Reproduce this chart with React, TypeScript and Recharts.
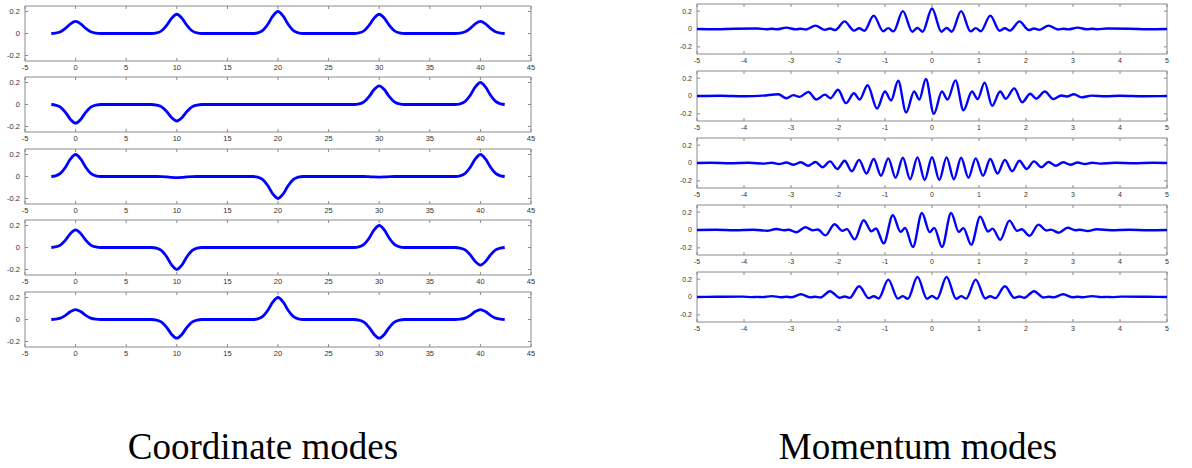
import React from 'react';
import { LineChart, Line, XAxis, YAxis, ReferenceLine } from 'recharts';

// ---------- Coordinate modes (left column) ----------
const COORD_X = [
  -2.4, -2, -1.5, -1, -0.5, 0, 0.5, 1, 1.5, 2, 2.5,
  7.5, 8, 8.5, 9, 9.5, 10, 10.5, 11, 11.5, 12, 12.5,
  17.5, 18, 18.5, 19, 19.5, 20, 20.5, 21, 21.5, 22, 22.5,
  27.5, 28, 28.5, 29, 29.5, 30, 30.5, 31, 31.5, 32, 32.5,
  37.5, 38, 38.5, 39, 39.5, 40, 40.5, 41, 41.5, 42, 42.4,
];
const COORD_1 = [
  0, 0.003, 0.015, 0.046, 0.088, 0.11, 0.088, 0.046, 0.015, 0.003, 0,
  0, 0.005, 0.025, 0.074, 0.14, 0.175, 0.14, 0.074, 0.025, 0.005, 0,
  0, 0.006, 0.028, 0.084, 0.16, 0.2, 0.16, 0.084, 0.028, 0.006, 0,
  0, 0.005, 0.025, 0.074, 0.14, 0.175, 0.14, 0.074, 0.025, 0.005, 0,
  0, 0.003, 0.015, 0.046, 0.088, 0.11, 0.088, 0.046, 0.015, 0.003, 0,
];
const COORD_2 = [
  0, -0.005, -0.024, -0.071, -0.136, -0.17, -0.136, -0.071, -0.024, -0.005, 0,
  0, -0.005, -0.021, -0.063, -0.12, -0.15, -0.12, -0.063, -0.021, -0.005, 0,
  0, 0, 0, 0, 0, 0, 0, 0, 0, 0, 0,
  0, 0.005, 0.024, 0.071, 0.136, 0.17, 0.136, 0.071, 0.024, 0.005, 0,
  0, 0.006, 0.028, 0.084, 0.16, 0.2, 0.16, 0.084, 0.028, 0.006, 0,
];
const COORD_3 = [
  0, 0.006, 0.028, 0.084, 0.16, 0.2, 0.16, 0.084, 0.028, 0.006, 0,
  0, 0, -0.001, -0.004, -0.008, -0.01, -0.008, -0.004, -0.001, 0, 0,
  0, -0.006, -0.028, -0.084, -0.16, -0.2, -0.16, -0.084, -0.028, -0.006, 0,
  0, 0, 0, -0.002, -0.004, -0.005, -0.004, -0.002, 0, 0, 0,
  0, 0.006, 0.028, 0.084, 0.16, 0.2, 0.16, 0.084, 0.028, 0.006, 0,
];
const COORD_4 = [
  0, 0.005, 0.022, 0.067, 0.128, 0.16, 0.128, 0.067, 0.022, 0.005, 0,
  0, -0.006, -0.028, -0.084, -0.16, -0.2, -0.16, -0.084, -0.028, -0.006, 0,
  0, 0, 0, 0, 0, 0, 0, 0, 0, 0, 0,
  0, 0.006, 0.028, 0.084, 0.16, 0.2, 0.16, 0.084, 0.028, 0.006, 0,
  0, -0.005, -0.022, -0.067, -0.128, -0.16, -0.128, -0.067, -0.022, -0.005, 0,
];
const COORD_5 = [
  0, 0.003, 0.013, 0.038, 0.072, 0.09, 0.072, 0.038, 0.013, 0.003, 0,
  0, -0.005, -0.024, -0.071, -0.136, -0.17, -0.136, -0.071, -0.024, -0.005, 0,
  0, 0.006, 0.028, 0.084, 0.16, 0.2, 0.16, 0.084, 0.028, 0.006, 0,
  0, -0.005, -0.024, -0.071, -0.136, -0.17, -0.136, -0.071, -0.024, -0.005, 0,
  0, 0.003, 0.013, 0.038, 0.072, 0.09, 0.072, 0.038, 0.013, 0.003, 0,
];
const COORD_TICKS = [-5, 0, 5, 10, 15, 20, 25, 30, 35, 40, 45];

// ---------- Momentum modes (right column), [x, value] ----------
const MOM_1: [number, number][] = [
  [-5, 0], [-4.6, -0.002], [-4.2, 0.003], [-3.72, 0.005], [-3.52, -0.002], [-3.41, 0.002], [-3.3, -0.003],
  [-3.1, 0.015], [-2.9, -0.004], [-2.79, 0.003], [-2.68, -0.005], [-2.48, 0.038], [-2.28, -0.01], [-2.17, 0.005],
  [-2.06, -0.012], [-1.86, 0.085], [-1.66, -0.018], [-1.55, 0.008], [-1.44, -0.02], [-1.24, 0.15], [-1.04, -0.025],
  [-0.93, 0.01], [-0.82, -0.027], [-0.62, 0.2], [-0.42, -0.03], [-0.31, 0.012], [-0.2, -0.03], [0, 0.23],
  [0.2, -0.03], [0.31, 0.012], [0.42, -0.03], [0.62, 0.2], [0.82, -0.027], [0.93, 0.01], [1.04, -0.025],
  [1.24, 0.15], [1.44, -0.02], [1.55, 0.008], [1.66, -0.018], [1.86, 0.085], [2.06, -0.012], [2.17, 0.005],
  [2.28, -0.01], [2.48, 0.038], [2.68, -0.005], [2.79, 0.003], [2.9, -0.004], [3.1, 0.015], [3.3, -0.003],
  [3.41, 0.002], [3.52, -0.002], [3.72, 0.005], [4.2, 0.003], [4.6, -0.002], [5, 0],
];
const MOM_2: [number, number][] = [
  [-5, 0], [-4.5, 0.003], [-4.0, -0.003], [-3.6, 0.004], [-3.27, 0.02], [-3.1, -0.025], [-2.95, 0.01],
  [-2.82, -0.01], [-2.63, 0.045], [-2.46, -0.04], [-2.28, 0.015], [-2.16, -0.025], [-2.0, 0.07], [-1.83, -0.08],
  [-1.66, 0.03], [-1.54, -0.04], [-1.37, 0.12], [-1.17, -0.14], [-1.0, 0.05], [-0.87, -0.05], [-0.72, 0.17],
  [-0.55, -0.185], [-0.38, 0.05], [-0.27, -0.04], [-0.13, 0.19], [0.04, -0.2], [0.21, 0.05], [0.33, -0.04],
  [0.5, 0.175], [0.67, -0.16], [0.85, 0.05], [0.97, -0.035], [1.12, 0.15], [1.28, -0.11], [1.45, 0.05],
  [1.57, -0.03], [1.75, 0.085], [1.92, -0.07], [2.09, 0.025], [2.22, -0.03], [2.4, 0.05], [2.58, -0.035],
  [2.75, 0.005], [2.87, -0.005], [3.02, 0.02], [3.18, -0.015], [3.4, 0.004], [3.7, -0.003], [4.0, 0.003],
  [4.5, -0.002], [5, 0],
];
const MOM_3: [number, number][] = [
  [-5, 0], [-4.7, 0.002], [-4.3, -0.003], [-3.9, 0.002], [-3.565, -0.007], [-3.41, 0.003], [-3.255, -0.012],
  [-3.1, 0.005], [-2.945, -0.02], [-2.79, 0.008], [-2.635, -0.031], [-2.48, 0.012], [-2.325, -0.047],
  [-2.17, 0.018], [-2.015, -0.068], [-1.86, 0.026], [-1.705, -0.092], [-1.55, 0.035], [-1.395, -0.118],
  [-1.24, 0.044], [-1.085, -0.142], [-0.93, 0.052], [-0.775, -0.165], [-0.62, 0.058], [-0.465, -0.182],
  [-0.31, 0.063], [-0.155, -0.19], [0, 0.065], [0.155, -0.19], [0.31, 0.063], [0.465, -0.182], [0.62, 0.058],
  [0.775, -0.165], [0.93, 0.052], [1.085, -0.142], [1.24, 0.044], [1.395, -0.118], [1.55, 0.035],
  [1.705, -0.092], [1.86, 0.026], [2.015, -0.068], [2.17, 0.018], [2.325, -0.047], [2.48, 0.012],
  [2.635, -0.031], [2.79, 0.008], [2.945, -0.02], [3.1, 0.005], [3.255, -0.012], [3.41, 0.003],
  [3.565, -0.007], [3.9, 0.002], [4.3, -0.003], [4.7, 0.002], [5, 0],
];
const MOM_4: [number, number][] = [
  [-5, 0], [-4.6, 0.002], [-4.2, -0.002], [-3.8, 0.003], [-3.506, -0.008], [-3.314, 0.012], [-3.148, -0.003],
  [-3.052, 0.003], [-2.886, -0.025], [-2.694, 0.03], [-2.528, -0.004], [-2.432, 0.005], [-2.266, -0.06],
  [-2.074, 0.065], [-1.908, -0.009], [-1.812, 0.01], [-1.646, -0.105], [-1.454, 0.11], [-1.288, -0.015],
  [-1.192, 0.016], [-1.026, -0.15], [-0.834, 0.165], [-0.668, -0.021], [-0.572, 0.022], [-0.406, -0.19],
  [-0.214, 0.19], [-0.048, -0.024], [0.048, 0.024], [0.214, -0.19], [0.406, 0.19], [0.572, -0.022],
  [0.668, 0.021], [0.834, -0.165], [1.026, 0.15], [1.192, -0.016], [1.288, 0.015], [1.454, -0.11],
  [1.646, 0.105], [1.812, -0.01], [1.908, 0.009], [2.074, -0.065], [2.266, 0.06], [2.432, -0.005],
  [2.528, 0.004], [2.694, -0.03], [2.886, 0.025], [3.052, -0.003], [3.148, 0.003], [3.314, -0.012],
  [3.506, 0.008], [3.8, -0.003], [4.2, 0.002], [4.6, -0.002], [5, 0],
];
const MOM_5: [number, number][] = [
  [-5, 0], [-4.6, 0.002], [-4.03, 0.004], [-3.83, -0.001], [-3.72, 0.001], [-3.61, -0.001], [-3.41, 0.01],
  [-3.206, -0.002], [-3.1, 0.002], [-2.996, -0.003], [-2.79, 0.03], [-2.586, -0.004], [-2.48, 0.003],
  [-2.374, -0.005], [-2.17, 0.065], [-1.966, -0.008], [-1.86, 0.005], [-1.754, -0.01], [-1.55, 0.12],
  [-1.346, -0.013], [-1.24, 0.008], [-1.134, -0.016], [-0.93, 0.195], [-0.726, -0.018], [-0.62, 0.01],
  [-0.514, -0.02], [-0.31, 0.225], [-0.106, -0.02], [0, 0.012], [0.106, -0.02], [0.31, 0.225],
  [0.514, -0.02], [0.62, 0.01], [0.726, -0.018], [0.93, 0.195], [1.134, -0.016], [1.24, 0.008],
  [1.346, -0.013], [1.55, 0.12], [1.754, -0.01], [1.86, 0.005], [1.966, -0.008], [2.17, 0.065],
  [2.374, -0.005], [2.48, 0.003], [2.586, -0.004], [2.79, 0.03], [2.996, -0.003], [3.1, 0.002],
  [3.206, -0.002], [3.41, 0.01], [3.61, -0.001], [3.72, 0.001], [3.83, -0.001], [4.03, 0.004],
  [4.6, 0.002], [5, 0],
];
const MOM_TICKS = [-5, -4, -3, -2, -1, 0, 1, 2, 3, 4, 5];
const Y_TICKS = [-0.2, 0, 0.2];
const CAPTIONS = ['Coordinate modes', 'Momentum modes'];

const AXIS_COLOR = '#8a8a8a';
const LABEL_COLOR = '#333';
const SANS = '"Liberation Sans", Arial, Helvetica, sans-serif';
const TICK_PX = 3;

type Row = { x: number; y: number };

type PanelProps = {
  data: Row[];
  left: number;
  top: number;
  width: number;
  height: number;
  xDomain: [number, number];
  xTicks: number[];
  yDomain: [number, number];
  strokeWidth: number;
  fontSize: number;
};

function Panel({ data, left, top, width, height, xDomain, xTicks, yDomain, strokeWidth, fontSize }: PanelProps) {
  const ML = 30;
  const MR = 6;
  const MT = 2;
  const MB = 18;
  const tickStyle = { fontSize, fill: LABEL_COLOR, fontFamily: SANS };
  const [x0, x1] = xDomain;
  const [y0, y1] = yDomain;
  // tick length converted to data units of each axis
  const dx = ((x1 - x0) / width) * TICK_PX;
  const dy = ((y1 - y0) / height) * TICK_PX;
  const frame = { stroke: AXIS_COLOR, strokeWidth: 1, ifOverflow: 'visible' as const };
  return (
    <div style={{ position: 'absolute', left: left - ML, top: top - MT }}>
      <LineChart
        width={width + ML + MR}
        height={height + MT + MB}
        data={data}
        margin={{ top: MT, right: MR, bottom: 0, left: 0 }}
        style={{ overflow: 'visible' }}
      >
        <XAxis
          dataKey="x"
          type="number"
          domain={xDomain}
          ticks={xTicks}
          interval={0}
          allowDataOverflow
          height={MB}
          axisLine={false}
          tickLine={false}
          tickSize={0}
          tickMargin={4}
          tick={tickStyle}
        />
        <YAxis
          type="number"
          domain={yDomain}
          ticks={Y_TICKS}
          interval={0}
          allowDataOverflow
          width={ML}
          axisLine={false}
          tickLine={false}
          tickSize={0}
          tickMargin={5}
          tick={tickStyle}
        />
        {/* box */}
        <ReferenceLine x={x0} {...frame} />
        <ReferenceLine x={x1} {...frame} />
        <ReferenceLine y={y0} {...frame} />
        <ReferenceLine y={y1} {...frame} />
        {/* inward ticks on bottom and top edges */}
        {xTicks.map((t) => (
          <ReferenceLine key={'b' + t} segment={[{ x: t, y: y0 }, { x: t, y: y0 + dy }]} {...frame} />
        ))}
        {xTicks.map((t) => (
          <ReferenceLine key={'t' + t} segment={[{ x: t, y: y1 }, { x: t, y: y1 - dy }]} {...frame} />
        ))}
        {/* inward ticks on left and right edges */}
        {Y_TICKS.map((t) => (
          <ReferenceLine key={'l' + t} segment={[{ x: x0, y: t }, { x: x0 + dx, y: t }]} {...frame} />
        ))}
        {Y_TICKS.map((t) => (
          <ReferenceLine key={'r' + t} segment={[{ x: x1, y: t }, { x: x1 - dx, y: t }]} {...frame} />
        ))}
        <Line
          dataKey="y"
          type="monotone"
          dot={false}
          stroke="#0000ff"
          strokeWidth={strokeWidth}
          strokeLinejoin="round"
          isAnimationActive={false}
        />
      </LineChart>
    </div>
  );
}

const COORD_SERIES = [COORD_1, COORD_2, COORD_3, COORD_4, COORD_5];
const MOM_SERIES = [MOM_1, MOM_2, MOM_3, MOM_4, MOM_5];
const COORD_TOPS = [5.5, 77, 148.5, 220, 291.5];
const MOM_TOPS = [4, 71, 137.5, 204.5, 271.5];

export default function App() {
  return (
    <div style={{ position: 'absolute', left: 0, top: 0, width: 1192, height: 468, background: '#fff', overflow: 'hidden' }}>
      {COORD_SERIES.map((vals, i) => (
        <Panel
          key={'c' + i}
          data={COORD_X.map((x, j) => ({ x, y: vals[j] }))}
          left={25}
          top={COORD_TOPS[i]}
          width={506}
          height={55}
          xDomain={[-5, 45]}
          xTicks={COORD_TICKS}
          yDomain={[-0.25, 0.25]}
          strokeWidth={2.8}
          fontSize={7.5}
        />
      ))}
      {MOM_SERIES.map((pts, i) => (
        <Panel
          key={'m' + i}
          data={pts.map(([x, y]) => ({ x, y }))}
          left={697}
          top={MOM_TOPS[i]}
          width={470}
          height={50}
          xDomain={[-5, 5]}
          xTicks={MOM_TICKS}
          yDomain={[-0.28, 0.28]}
          strokeWidth={2.4}
          fontSize={7}
        />
      ))}
      <svg width={1192} height={468} style={{ position: 'absolute', left: 0, top: 0, pointerEvents: 'none' }}>
        <text x={263} y={459} textAnchor="middle" fontFamily='"Liberation Serif", "Times New Roman", serif' fontSize={37} fill="#000">
          {CAPTIONS[0]}
        </text>
        <text x={918} y={459} textAnchor="middle" fontFamily='"Liberation Serif", "Times New Roman", serif' fontSize={37} fill="#000">
          {CAPTIONS[1]}
        </text>
      </svg>
    </div>
  );
}
